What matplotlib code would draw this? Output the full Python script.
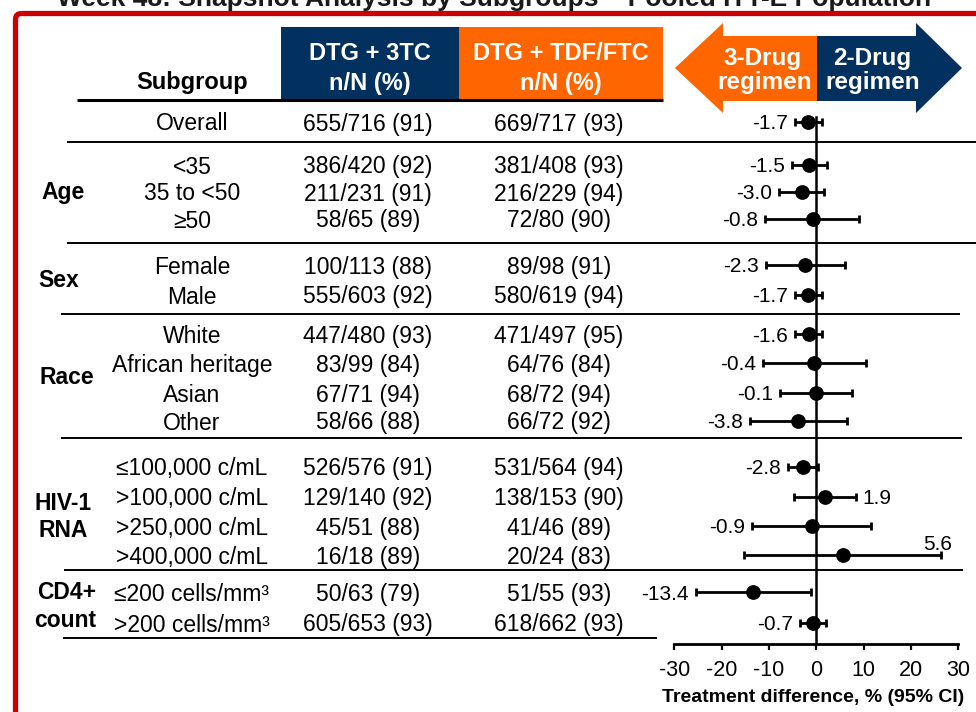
import matplotlib.pyplot as plt
from matplotlib.patches import Polygon, Rectangle, FancyBboxPatch
from matplotlib import rcParams

rcParams['font.family'] = ['Liberation Sans', 'DejaVu Sans']

NAVY = '#02305F'
ORANGE = '#FF6600'
RED = '#CC0000'

# ---- data ----
subgroups = ['Overall', '<35', '35 to <50', '≥50', 'Female', 'Male',
             'White', 'African heritage', 'Asian', 'Other',
             '≤100,000 c/mL', '>100,000 c/mL', '>250,000 c/mL', '>400,000 c/mL',
             '≤200 cells/mm³', '>200 cells/mm³']
dtg3tc_n = [655, 386, 211, 58, 100, 555, 447, 83, 67, 58, 526, 129, 45, 16, 50, 605]
dtg3tc_N = [716, 420, 231, 65, 113, 603, 480, 99, 71, 66, 576, 140, 51, 18, 63, 653]
dtg3tc_pct = [91, 92, 91, 89, 88, 92, 93, 84, 94, 88, 91, 92, 88, 89, 79, 93]
tdf_n = [669, 381, 216, 72, 89, 580, 471, 64, 68, 66, 531, 138, 41, 20, 51, 618]
tdf_N = [717, 408, 229, 80, 98, 619, 497, 76, 72, 72, 564, 153, 46, 24, 55, 662]
tdf_pct = [93, 93, 94, 90, 91, 94, 95, 84, 94, 92, 94, 90, 89, 83, 93, 93]
diff = [-1.7, -1.5, -3.0, -0.8, -2.3, -1.7, -1.6, -0.4, -0.1, -3.8,
        -2.8, 1.9, -0.9, 5.6, -13.4, -0.7]
ci_lo = [-4.4, -5.1, -7.8, -10.8, -10.6, -4.6, -4.6, -11.3, -7.6, -14.1,
         -5.9, -4.7, -13.5, -15.3, -25.4, -3.5]
ci_hi = [1.1, 2.2, 1.6, 9.1, 6.0, 1.2, 1.3, 10.6, 7.5, 6.5,
         0.3, 8.4, 11.6, 26.4, -1.2, 2.1]
x_ticks = [-30, -20, -10, 0, 10, 20, 30]

# ---- layout (pixel rows, from top) ----
W, H = 976, 712
row_y = [121.5, 164.5, 191.5, 218.5, 265, 294.5, 334, 363, 393, 420.5,
         466.5, 496.5, 525.5, 555, 592, 622.5]

fig = plt.figure(figsize=(W / 100, H / 100), dpi=100)
bg = fig.add_axes([0, 0, 1, 1])
bg.set_xlim(0, W)
bg.set_ylim(H, 0)
bg.axis('off')

# title (cropped at the top of the slide, as in the source)
bg.text(494, 6, 'Week 48: Snapshot Analysis by Subgroups \u2013 Pooled ITT-E Population',
        ha='center', va='baseline', fontsize=19, fontweight='bold', color='#1a1a1a')

# red slide frame
bg.add_patch(FancyBboxPatch((15.5, 13.5), 1200, 1000,
                            boxstyle='round,pad=0,rounding_size=6',
                            fill=False, edgecolor=RED, linewidth=3.8))

# column header boxes
bg.add_patch(Rectangle((281, 27), 178, 72, facecolor=NAVY, edgecolor='none'))
bg.add_patch(Rectangle((459, 27), 204, 72, facecolor=ORANGE, edgecolor='none'))
hdr = dict(ha='center', va='center_baseline', fontsize=17, fontweight='bold', color='white')
bg.text(370, 51, 'DTG + 3TC', **hdr)
bg.text(370, 81, 'n/N (%)', **hdr)
bg.text(561, 51, 'DTG + TDF/FTC', **hdr)
bg.text(561, 81, 'n/N (%)', **hdr)
bg.text(192, 80, 'Subgroup', ha='center', va='center_baseline', fontsize=17,
        fontweight='bold', color='black')

# direction arrows
bg.add_patch(Polygon([(817, 36), (723, 36), (723, 23), (675, 68), (723, 113),
                      (723, 101), (817, 101)], closed=True, facecolor=ORANGE,
                     edgecolor='none'))
bg.add_patch(Polygon([(817, 36), (916, 36), (916, 23), (962, 68), (916, 113),
                      (916, 101), (817, 101)], closed=True, facecolor=NAVY,
                     edgecolor='none'))
arr = dict(ha='center', va='center_baseline', fontsize=17.5, fontweight='bold', color='white')
bg.text(763, 56, '3-Drug', **arr)
bg.text(765, 80, 'regimen', **arr)
bg.text(872, 56, '2-Drug', **arr)
bg.text(873, 80, 'regimen', **arr)

# separators
bg.plot([77, 663], [99.5, 99.5], color='black', lw=2.2, solid_capstyle='butt')
for y, x0, x1 in [(141.5, 67, 976), (242.5, 67, 976), (314, 61, 960),
                  (437.5, 61, 962), (570, 64, 963), (637.5, 63, 657)]:
    bg.plot([x0, x1], [y, y], color='black', lw=1.4, solid_capstyle='butt')

# table body
body = dict(ha='center', va='center_baseline', fontsize=16.5, color='black')
for i, y in enumerate(row_y):
    bg.text(192, y, subgroups[i], **body)
    bg.text(368, y, f'{dtg3tc_n[i]}/{dtg3tc_N[i]} ({dtg3tc_pct[i]})', **body)
    bg.text(559, y, f'{tdf_n[i]}/{tdf_N[i]} ({tdf_pct[i]})', **body)

grp = dict(va='center_baseline', fontsize=16.5, fontweight='bold', color='black')
bg.text(63, 190, 'Age', ha='center', **grp)
bg.text(59, 278, 'Sex', ha='center', **grp)
bg.text(67, 375, 'Race', ha='center', **grp)
bg.text(63, 501, 'HIV-1', ha='center', **grp)
bg.text(63, 528, 'RNA', ha='center', **grp)
bg.text(96, 590, 'CD4+', ha='right', **grp)
bg.text(96, 618, 'count', ha='right', **grp)

# ---- forest plot ----
x_m30, x_p30, y_axis, y_top = 674.3, 958.3, 644, 100
ax = fig.add_axes([x_m30 / W, (H - y_axis) / H, (x_p30 - x_m30) / W, (y_axis - y_top) / H])
ax.patch.set_alpha(0)
ax.set_xlim(-30, 30)
ax.set_ylim(y_axis, y_top)
for s in ['top', 'left', 'right']:
    ax.spines[s].set_visible(False)
ax.spines['bottom'].set_linewidth(2)
ax.set_yticks([])
ax.set_xticks(x_ticks)
ax.set_xticklabels([str(t) for t in x_ticks])
ax.tick_params(axis='x', direction='out', length=4.5, width=1.6, pad=7, labelsize=15.5)

ax.plot([0, 0], [117, y_axis], color='black', lw=1.8, zorder=2)

err_lo = [d - lo for d, lo in zip(diff, ci_lo)]
err_hi = [hi - d for d, hi in zip(diff, ci_hi)]
ax.errorbar(diff, row_y, xerr=[err_lo, err_hi], fmt='o', color='black',
            ms=9.6, elinewidth=2, capsize=3.2, capthick=2, zorder=3)

for i, y in enumerate(row_y):
    lab = f'{diff[i]:.1f}'
    if subgroups[i] == '>100,000 c/mL':
        ax.annotate(lab, (ci_hi[i], y), xytext=(6, 0), textcoords='offset pixels',
                    ha='left', va='center_baseline', fontsize=15)
    elif subgroups[i] == '>400,000 c/mL':
        ax.annotate(lab, (ci_hi[i], y), xytext=(11, 12), textcoords='offset pixels',
                    ha='right', va='center_baseline', fontsize=15)
    else:
        ax.annotate(lab, (ci_lo[i], y), xytext=(-7, 0), textcoords='offset pixels',
                    ha='right', va='center_baseline', fontsize=15)

bg.text(813, 696, 'Treatment difference, % (95% CI)', ha='center', va='center_baseline',
        fontsize=14, fontweight='bold', color='black')

fig.savefig('out.png', dpi=100)
